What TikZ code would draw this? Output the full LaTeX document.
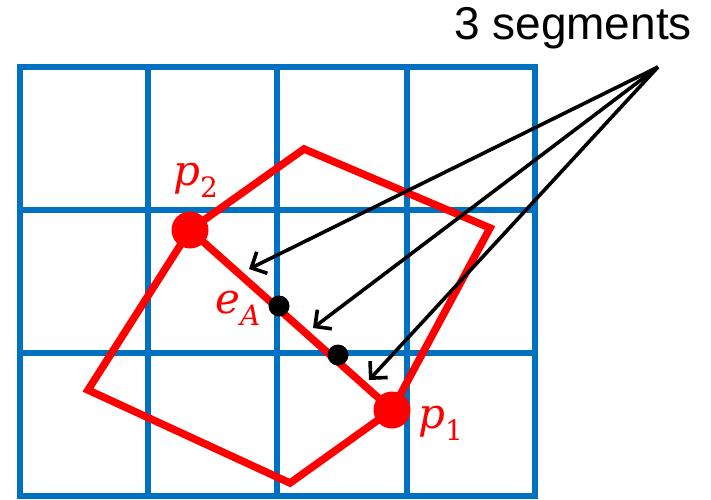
\documentclass[tikz,border=0pt]{standalone}
\usepackage{fontspec}
\newfontfamily\arialf{Liberation Sans}
\newfontfamily\lblf{DejaVu Serif}
\usetikzlibrary{arrows.meta}
\definecolor{gridblue}{RGB}{0,112,192}
\definecolor{polyred}{RGB}{255,0,0}
\newcommand{\lblsub}[2]{{\lblf\itshape #1}\raisebox{-12pt}{\lblf\fontsize{28}{28}\selectfont #2}}
\begin{document}
\begin{tikzpicture}[x=1pt,y=-1pt,
  gridline/.style={draw=gridblue,line width=5.5pt},
  polyline/.style={draw=polyred,line width=7.5pt,line join=miter},
  vertexdot/.style={circle,fill=polyred,inner sep=0pt,minimum size=37pt},
  segdot/.style={circle,fill=black,inner sep=0pt,minimum size=21pt},
  lbl/.style={text=polyred,inner sep=0pt,anchor=base west,font=\lblf\fontsize{42}{46}\selectfont},
  pointer/.style={draw=black,line width=3.6pt,-{Straight Barb[length=12pt,width=24pt,line width=3.6pt]}}]
\useasboundingbox (0,0) rectangle (711,499);
% grid
\foreach \x in {20,148,277,407,535} \draw[gridline] (\x,64.25) -- (\x,498.75);
\foreach \y in {67,210,353,496} \draw[gridline] (17.25,\y) -- (537.75,\y);
% polygon vertices
\coordinate (p2) at (190,230);
\coordinate (top) at (304,149);
\coordinate (right) at (490,228);
\coordinate (p1) at (392,410);
\coordinate (bottom) at (290,483);
\coordinate (left) at (88,390);
\draw[polyline] (p2) -- (top) -- (right) -- (p1) -- (bottom) -- (left) -- cycle;
\draw[polyline] (p2) -- (p1);
% arrows
\node[font=\arialf\fontsize{46}{50}\selectfont,inner sep=0pt] (title) at (573,28) {3 segments};
\coordinate (src) at (658,67);
\coordinate (t1) at (249,269);
\coordinate (t2) at (313,328);
\coordinate (t3) at (369,380);
\draw[pointer] (src) -- (t1);
\draw[pointer] (src) -- (t2);
\draw[pointer] (src) -- (t3);
% dots
\node[segdot] (eA) at (279,306) {};
\node[segdot] (d2) at (338,355) {};
\node[vertexdot] (P2) at (p2) {};
\node[vertexdot] (P1) at (p1) {};
% labels
\node[lbl] (lp2) at (173,185) {\lblsub{p}{2}};
\node[lbl] (leA) at (215,313) {\lblsub{e}{\itshape A}};
\node[lbl] (lp1) at (418,428) {\lblsub{p}{1}};
\end{tikzpicture}
\end{document}
